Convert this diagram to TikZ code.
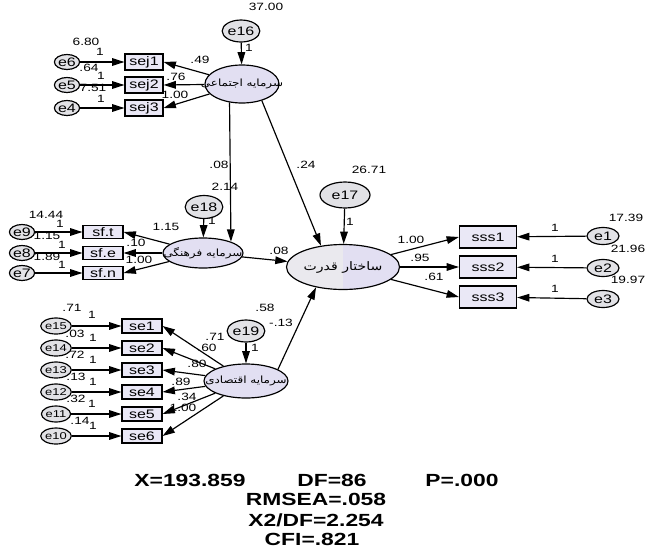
\documentclass[tikz,border=0pt]{standalone}
\usepackage{fontspec}
\setmainfont{Liberation Sans}[FakeStretch=1.3]
\newfontfamily\arabicfont[Script=Arabic,FakeStretch=1.2]{DejaVu Sans}
\TeXXeTstate=1
\usepackage{tikz}
\usetikzlibrary{shapes.geometric,arrows.meta}
\definecolor{latent}{RGB}{226,223,242}
\definecolor{powleft}{RGB}{234,233,238}
\definecolor{boxfill}{RGB}{234,232,246}
\definecolor{errfill}{RGB}{226,226,230}

\begin{document}
\begin{tikzpicture}[x=0.03cm, y=-0.03cm, line width=1pt, >={Triangle[length=10.5pt,width=6.5pt]},
  lat/.style={ellipse, draw, fill=latent, inner sep=0pt},
  err/.style={ellipse, draw, fill=errfill, inner sep=0pt, font=\fontsize{10.5}{12}\selectfont,
    minimum width=0.66cm, minimum height=0.45cm},
  obs/.style={rectangle, draw, fill=boxfill, inner sep=0pt, font=\fontsize{10.5}{12}\selectfont},
  num/.style={inner sep=0pt, font=\fontsize{9}{10}\selectfont},
  stat/.style={inner sep=0pt, font=\bfseries\fontsize{15}{17}\selectfont},
  fa/.style={font=\arabicfont\fontsize{8.5}{9}\selectfont, inner sep=0pt}]
  \useasboundingbox (0,0) rectangle (645,553);

  % Latent variables
  \node[lat, minimum width=2.22cm, minimum height=1.14cm,
    label={[fa]center:{\beginR سرمایه اجتماعی\endR}}] (soc) at (242,84) {};
  \node[lat, minimum width=2.4cm, minimum height=0.9cm,
    label={[fa]center:{\beginR سرمایه فرهنگی\endR}}] (cul) at (203,253) {};
  \node[lat, minimum width=2.52cm, minimum height=1.02cm,
    label={[fa]center:{\beginR سرمایه اقتصادی\endR}}] (eco) at (246,381) {};
  \node[lat, fill=powleft, minimum width=3.39cm, minimum height=1.35cm,
    path picture={\fill[latent] (path picture bounding box.north) rectangle (path picture bounding box.south east);},
    label={[fa, font=\arabicfont\fontsize{10}{11}\selectfont]center:{\beginR ساختار قدرت\endR}}] (pow) at (343,267) {};

  % Disturbances
  \node[err, minimum width=1.08cm, minimum height=0.66cm] (e16) at (241,31) {e16};
  \node[err, minimum width=0.96cm, minimum height=0.69cm] (e18) at (204,207) {e18};
  \node[err, minimum width=1.5cm, minimum height=0.78cm] (e17) at (345,195) {e17};
  \node[err, minimum width=1.02cm, minimum height=0.66cm] (e19) at (246,331) {e19};

  % Indicators of social capital
  \node[obs, minimum width=1.14cm, minimum height=0.48cm] (sej1) at (144,62) {sej1};
  \node[obs, minimum width=1.14cm, minimum height=0.48cm] (sej2) at (144,85) {sej2};
  \node[obs, minimum width=1.14cm, minimum height=0.48cm] (sej3) at (144,108) {sej3};
  \node[err] (e6) at (67,62) {e6};
  \node[err] (e5) at (67,85) {e5};
  \node[err] (e4) at (67,108) {e4};

  % Indicators of cultural capital
  \node[obs, minimum width=1.2cm, minimum height=0.39cm] (sft) at (103,232) {sf.t};
  \node[obs, minimum width=1.2cm, minimum height=0.39cm] (sfe) at (103,253) {sf.e};
  \node[obs, minimum width=1.2cm, minimum height=0.39cm] (sfn) at (103,273) {sf.n};
  \node[err] (e9) at (22,232) {e9};
  \node[err] (e8) at (22,253) {e8};
  \node[err] (e7) at (22,273) {e7};

  % Indicators of economic capital
  \node[obs, minimum width=1.2cm, minimum height=0.42cm] (se1) at (142,326) {se1};
  \node[obs, minimum width=1.2cm, minimum height=0.42cm] (se2) at (142,348) {se2};
  \node[obs, minimum width=1.2cm, minimum height=0.42cm] (se3) at (142,370) {se3};
  \node[obs, minimum width=1.2cm, minimum height=0.42cm] (se4) at (142,392) {se4};
  \node[obs, minimum width=1.2cm, minimum height=0.42cm] (se5) at (142,414) {se5};
  \node[obs, minimum width=1.2cm, minimum height=0.42cm] (se6) at (142,436) {se6};
  \node[err, minimum height=0.48cm, font=\fontsize{8.5}{10}\selectfont] (e15) at (56,326) {e15};
  \node[err, minimum height=0.48cm, font=\fontsize{8.5}{10}\selectfont] (e14) at (56,348) {e14};
  \node[err, minimum height=0.48cm, font=\fontsize{8.5}{10}\selectfont] (e13) at (56,370) {e13};
  \node[err, minimum height=0.48cm, font=\fontsize{8.5}{10}\selectfont] (e12) at (56,392) {e12};
  \node[err, minimum height=0.48cm, font=\fontsize{8.5}{10}\selectfont] (e11) at (56,414) {e11};
  \node[err, minimum height=0.48cm, font=\fontsize{8.5}{10}\selectfont] (e10) at (56,436) {e10};

  % Indicators of power structure
  \node[obs, minimum width=1.71cm, minimum height=0.66cm] (sss1) at (488,237) {sss1};
  \node[obs, minimum width=1.71cm, minimum height=0.66cm] (sss2) at (488,267) {sss2};
  \node[obs, minimum width=1.71cm, minimum height=0.66cm] (sss3) at (488,297) {sss3};
  \node[err, minimum width=0.96cm, minimum height=0.51cm] (e1) at (603,236) {e1};
  \node[err, minimum width=0.96cm, minimum height=0.51cm] (e2) at (603,268) {e2};
  \node[err, minimum width=0.96cm, minimum height=0.51cm] (e3) at (603,299) {e3};

  % Paths
  \draw[->] (e16) -- (soc);
  \draw[->] (soc) -- (sej1.east);
  \draw[->] (soc) -- (sej2.east);
  \draw[->] (soc) -- (sej3.east);
  \draw[->] (e6) -- (sej1);
  \draw[->] (e5) -- (sej2);
  \draw[->] (e4) -- (sej3);
  \draw[->] (soc.236) -- (cul.22);
  \draw[->] (soc.-40) -- (pow.136);
  \draw[->] (e18) -- (cul);
  \draw[->] (cul) -- (sft.east);
  \draw[->] (cul) -- (sfe.east);
  \draw[->] (cul) -- (sfn.east);
  \draw[->] (e9) -- (sft);
  \draw[->] (e8) -- (sfe);
  \draw[->] (e7) -- (sfn);
  \draw[->] (cul) -- (pow);
  \draw[->] (e17) -- (pow);
  \draw[->] (eco.20) -- (pow.217);
  \draw[->] (e19) -- (eco);
  \draw[->] (eco) -- (se1.east);
  \draw[->] (eco) -- (se2.east);
  \draw[->] (eco) -- (se3.east);
  \draw[->] (eco) -- (se4.east);
  \draw[->] (eco) -- (se5.east);
  \draw[->] (eco) -- (se6.east);
  \draw[->] (e15) -- (se1);
  \draw[->] (e14) -- (se2);
  \draw[->] (e13) -- (se3);
  \draw[->] (e12) -- (se4);
  \draw[->] (e11) -- (se5);
  \draw[->] (e10) -- (se6);
  \draw[->] (pow) -- (sss1.west);
  \draw[->] (pow) -- (sss2.west);
  \draw[->] (pow) -- (sss3.west);
  \draw[->] (e1) -- (sss1);
  \draw[->] (e2) -- (sss2);
  \draw[->] (e3) -- (sss3);

  % Estimates, social capital block
  \node[num] (v16) at (266,7) {37.00};
  \node[num] (w16) at (249,48) {1};
  \node[num] (v6) at (86,42) {6.80};
  \node[num] (w6) at (100,52) {1};
  \node[num] (v5) at (89,68) {.64};
  \node[num] (w5) at (101,76) {1};
  \node[num] (v4) at (93,88) {7.51};
  \node[num] (w4) at (101,99) {1};
  \node[num] (l1) at (200,60) {.49};
  \node[num] (l2) at (176,77) {.76};
  \node[num] (l3) at (175,95) {1.00};

  % Estimates, cultural capital block
  \node[num] (v9) at (46,215) {14.44};
  \node[num] (w9) at (60,224) {1};
  \node[num] (v8) at (47,236) {1.15};
  \node[num] (w8) at (62,245) {1};
  \node[num] (v7) at (47,257) {1.89};
  \node[num] (w7) at (62,265) {1};
  \node[num] (l4) at (166,227) {1.15};
  \node[num] (l5) at (136,243) {.10};
  \node[num] (l6) at (139,260) {1.00};
  \node[num] (w18) at (212,221) {1};
  \node[num] (v18) at (225,187) {2.14};
  \node[num] (b1) at (219,165) {.08};
  \node[num] (b2) at (306,165) {.24};
  \node[num] (b3) at (279,251) {.08};

  % Estimates, power structure block
  \node[num] (v17) at (369,170) {26.71};
  \node[num] (w17) at (350,222) {1};
  \node[num] (l7) at (411,240) {1.00};
  \node[num] (l8) at (420,258) {.95};
  \node[num] (l9) at (434,277) {.61};
  \node[num] (v1) at (626,218) {17.39};
  \node[num] (v2) at (628,249) {21.96};
  \node[num] (v3) at (628,280) {19.97};
  \node[num] (w1) at (555,228) {1};
  \node[num] (w2) at (555,259) {1};
  \node[num] (w3) at (555,289) {1};

  % Estimates, economic capital block
  \node[num] (v19) at (265,308) {.58};
  \node[num] (b4) at (281,323) {-.13};
  \node[num] (w19) at (255,348) {1};
  \node[num] (l10) at (215,337) {.71};
  \node[num] (l11) at (207,348) {.60};
  \node[num] (l12) at (197,364) {.80};
  \node[num] (l13) at (181,382) {.89};
  \node[num] (l14) at (187,397) {.34};
  \node[num] (l15) at (183,408) {1.00};
  \node[num] (v15) at (72,308) {.71};
  \node[num] (w15) at (92,315) {1};
  \node[num] (v14) at (75,334) {.03};
  \node[num] (w14) at (93,338) {1};
  \node[num] (v13) at (75,355) {.72};
  \node[num] (w13) at (93,360) {1};
  \node[num] (v12) at (76,377) {.13};
  \node[num] (w12) at (93,382) {1};
  \node[num] (v11) at (76,399) {.32};
  \node[num] (w11) at (92,404) {1};
  \node[num] (v10) at (80,421) {.14};
  \node[num] (w10) at (93,426) {1};

  % Fit indices
  \node[stat] (chi) at (190,480) {X=193.859};
  \node[stat] (df) at (332,480) {DF=86};
  \node[stat] (pval) at (462,480) {P=.000};
  \node[stat] (rmsea) at (316,499) {RMSEA=.058};
  \node[stat] (ratio) at (316,520) {X2/DF=2.254};
  \node[stat] (cfi) at (312,539) {CFI=.821};
\end{tikzpicture}
\end{document}
